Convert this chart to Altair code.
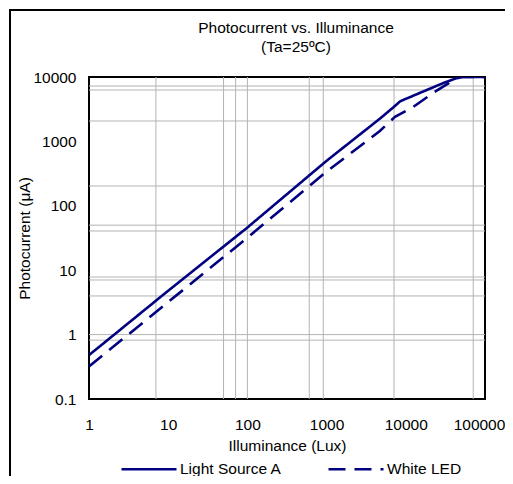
import altair as alt
import pandas as pd

# ---- data ----
series_names = ["Light Source A", "White LED"]
lux_a = [1, 10, 100, 1000, 4700, 7000, 8500, 15000, 30000, 48000, 100000]
cur_a = [0.48, 4.8, 46, 500, 2250, 3400, 4200, 5650, 8100, 10000, 10000]
lux_w = [1, 10, 100, 1000, 4700, 7300, 12300, 23000, 44000, 52000, 100000]
cur_w = [0.32, 3.2, 32, 340, 1450, 2400, 3400, 5850, 9600, 10000, 10000]

grid_lux = [7, 50, 71, 100, 604, 908, 7100, 71000]
grid_cur = [7240, 6280, 2075, 203, 50, 40.6, 7.84, 7.05, 3.98, 1.0, 0.82]

x_ticks = [1, 10, 100, 1000, 10000, 100000]
y_ticks = [0.1, 1, 10, 100, 1000, 10000]

df = pd.concat([
    pd.DataFrame({"lux": lux_a, "cur": cur_a, "series": series_names[0]}),
    pd.DataFrame({"lux": lux_w, "cur": cur_w, "series": series_names[1]}),
])
df["order"] = range(len(df))

FONT = "Liberation Sans, Arial, sans-serif"
NAVY = "#000080"

xscale = alt.Scale(type="log", domain=[1, 100000], nice=False)
yscale = alt.Scale(type="log", domain=[0.1, 10000], nice=False)
xaxis = alt.Axis(values=x_ticks, format="~g", title="Illuminance (Lux)",
                 labelPadding=18, titlePadding=6, labelFlush=False,
                 labelOffset={"condition": {"test": "datum.value >= 100000", "value": -6},
                              "value": 0})
yaxis = alt.Axis(values=y_ticks, format="~g", title="Photocurrent (\u03bcA)",
                 labelPadding=13, titlePadding=0, labelFlush=False)

X = alt.X("lux:Q", scale=xscale, axis=xaxis)
Y = alt.Y("cur:Q", scale=yscale, axis=yaxis)

grid_v = alt.Chart(pd.DataFrame({"lux": grid_lux})).mark_rule(
    color="#b3b3b3", strokeWidth=1).encode(x=X)
grid_h = alt.Chart(pd.DataFrame({"cur": grid_cur})).mark_rule(
    color="#b3b3b3", strokeWidth=1).encode(y=Y)

lines = alt.Chart(df).mark_line(color=NAVY, strokeWidth=2.6, clip=True).encode(
    x=X, y=Y, order="order:Q",
    strokeDash=alt.StrokeDash(
        "series:N",
        scale=alt.Scale(domain=series_names, range=[[1, 0], [17, 9]]),
        legend=alt.Legend(
            title=None, orient="none", legendX=31, legendY=363,
            direction="horizontal", symbolType="stroke", symbolSize=3025,
            symbolStrokeWidth=2.6, symbolStrokeColor=NAVY,
            labelFont=FONT, labelFontSize=15.5, labelColor="black",
            labelOffset=2, columnPadding=41, padding=0,
        ),
    ),
)

frame = alt.Chart(pd.DataFrame({"a": [0]})).mark_rect(
    fillOpacity=0, stroke="black", strokeWidth=2).encode(
    x=alt.value(-79), x2=alt.value(800), y=alt.value(-67), y2=alt.value(800))

chart = alt.layer(frame, grid_v, grid_h, lines).properties(
    width=396, height=322,
    autosize=alt.AutoSizeParams(type="none"),
    padding={"left": 81, "top": 69, "right": 20, "bottom": 77},
    title=alt.TitleParams(
        text=["Photocurrent vs. Illuminance", "(Ta=25\u00baC)"],
        font=FONT, fontSize=15.5, fontWeight="normal", color="black",
        anchor="middle", frame="group", dx=9, lineHeight=19, offset=-46,
    ),
).configure_view(stroke="black", strokeWidth=2).configure_axis(
    grid=False, ticks=False, domain=False,
    labelFont=FONT, labelFontSize=15.5, labelColor="black",
    titleFont=FONT, titleFontSize=15.5, titleFontWeight="normal", titleColor="black",
)

chart.save("out.html", embed_options={"renderer": "svg", "actions": False})
